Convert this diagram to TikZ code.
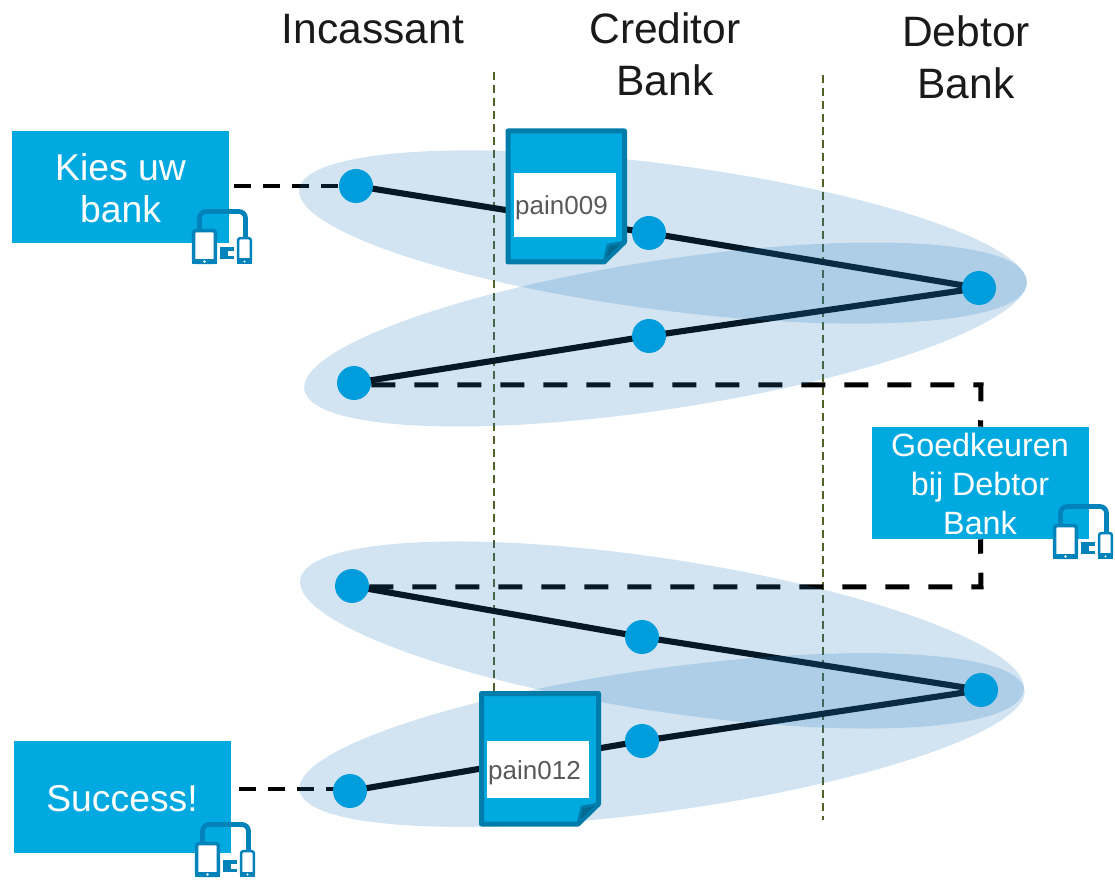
\documentclass[tikz,border=0pt]{standalone}
\usepackage{fontspec}
\setmainfont{Liberation Sans}
\usetikzlibrary{calc}
\pgfdeclarelayer{lines}
\pgfdeclarelayer{blobs}
\pgfsetlayers{lines,blobs,main}
\definecolor{boxblue}{HTML}{00A9E0}
\definecolor{dotblue}{HTML}{009DDC}
\definecolor{edgeblue}{HTML}{007CAB}
\definecolor{iconblue}{HTML}{0082BA}
\definecolor{blobblue}{RGB}{30,120,190}
\definecolor{olive}{HTML}{4F6228}
\definecolor{headtext}{HTML}{1A1A1A}
\tikzset{
  px/.style={x=0.75pt,y=-0.75pt},
  blob/.style={fill=blobblue,fill opacity=0.2},
  dotn/.style={circle,fill=dotblue,minimum size=25.5pt,inner sep=0pt},
  solidline/.style={line width=4.6pt,black,line join=round},
  dashsmall/.style={line width=3pt,black,dash pattern=on 12.75pt off 9pt},
  dashbig/.style={line width=3.75pt,black,dash pattern=on 18pt off 14.25pt},
  lane/.style={line width=1.9pt,olive,dash pattern=on 6pt off 3.75pt},
  bluebox/.style={fill=boxblue,minimum width=162.75pt,minimum height=84pt,inner sep=0pt},
  boxtext/.style={text=white,inner sep=0pt,align=center},
  head/.style={text=headtext,font=\fontsize{31.9}{39}\selectfont,align=center,inner sep=0pt},
  doc/.style={draw=edgeblue,fill=boxblue,line width=3.75pt,line join=round},
  docfold/.style={draw=edgeblue,fill=edgeblue!85!black,line width=2pt,line join=round},
  docwhite/.style={fill=white,minimum width=76.5pt,inner sep=0pt},
  doclabel/.style={text=black!65,font=\fontsize{19.5}{22}\selectfont,inner sep=0pt},
  devices/.pic={
    \draw[iconblue,line width=3.6pt,rounded corners=5pt] (7.5,22)--(7.5,2.5)--(53.5,2.5)--(53.5,32);
    \draw[iconblue,fill=white,line width=2.6pt,rounded corners=1.5pt] (1.7,21.7) rectangle (23.3,53.3);
    \draw[iconblue,fill=white,line width=1.9pt,rounded corners=1.5pt] (46.2,29.2) rectangle (58.8,53.5);
    \fill[iconblue] (0,50) rectangle (25,55);
    \fill[iconblue] (45,49.5) rectangle (60,55);
    \fill[white] (12.5,52.5) circle (1pt);
    \fill[white] (52.5,52.5) circle (0.9pt);
    \fill[iconblue] (28,38) rectangle (42,50);
    \fill[white] (36,42) rectangle (42,47);
  }
}
\begin{document}
\begin{tikzpicture}[px]
\useasboundingbox (0,0) rectangle (1115,880);

% blobs
\begin{pgfonlayer}{blobs}
\fill[blob,rotate around={-7.5:(663,237)}] (663,237) ellipse [x radius=275.2pt,y radius=54.6pt];
\fill[blob,rotate around={8.7:(665.5,334.5)}] (665.5,334.5) ellipse [x radius=274pt,y radius=55.8pt];
\fill[blob,rotate around={-8.7:(662,635)}] (662,635) ellipse [x radius=274.5pt,y radius=57.2pt];
\fill[blob,rotate around={7.9:(662,740)}] (662,740) ellipse [x radius=274.5pt,y radius=53.6pt];
\end{pgfonlayer}

% dots
\node[dotn] (a1) at (356,186) {};
\node[dotn] (a2) at (649,233) {};
\node[dotn] (a3) at (979,288) {};
\node[dotn] (a4) at (649,336) {};
\node[dotn] (a5) at (354,383) {};
\node[dotn] (b1) at (352,586) {};
\node[dotn] (b2) at (642,637) {};
\node[dotn] (b3) at (981,690) {};
\node[dotn] (b4) at (642,741) {};
\node[dotn] (b5) at (350,791) {};

% documents
\filldraw[doc] (508,131)--(624.5,131)--(624.5,242)--(604,262)--(508,262)--cycle;
\filldraw[docfold] (604,262)--(608,245)--(624.5,242)--cycle;
\node[docwhite,minimum height=48pt] (p9) at (565,205) {};
\node[doclabel] (p9t) at (561.5,208) {pain009};
\filldraw[doc] (481.5,693.5)--(598.5,693.5)--(598.5,804)--(578,824)--(481.5,824)--cycle;
\filldraw[docfold] (578,824)--(582,807)--(598.5,804)--cycle;
\node[docwhite,minimum height=43pt] (p12) at (538,769.5) {};
\node[doclabel] (p12t) at (534.5,772.5) {pain012};

% boxes
\node[bluebox] (kies) at (120.5,187) {};
\node[boxtext,font=\fontsize{28}{31.5}\selectfont] (kiest) at (120.5,188.5) {Kies uw\\bank};
\node[bluebox] (succ) at (122.5,797) {};
\node[boxtext,font=\fontsize{28}{31.5}\selectfont] (succt) at (122,798.5) {Success!};
\node[bluebox] (goed) at (980.5,483) {};
\node[boxtext,font=\fontsize{24.2}{29.2}\selectfont] (goedt) at (980,484) {Goedkeuren\\bij Debtor\\Bank};

% device icons
\pic at (192,209) {devices};
\pic at (1053,504) {devices};
\pic at (195,822) {devices};

% headers
\node[head] (h1) at (373,29) {Incassant};
\node[head] (h2) at (665,54.5) {Creditor\\Bank};
\node[head] (h3) at (966,57) {Debtor\\Bank};

% connector ends
\coordinate (kend) at (234,186);
\coordinate (send) at (239,789);
\coordinate (gtop) at (981,385);
\coordinate (gbot) at (981,587);
\coordinate (l1t) at (494,72);
\coordinate (l1b) at (494,700);
\coordinate (l2t) at (823,75);
\coordinate (l2b) at (823,820);

\begin{pgfonlayer}{lines}
\draw[lane] (l1t)--(l1b);
\draw[lane] (l2t)--(l2b);
\draw[solidline] (a1.center)--(a2.center)--(a3.center)--(a4.center)--(a5.center);
\draw[solidline] (b1.center)--(b2.center)--(b3.center)--(b4.center)--(b5.center);
\draw[dashsmall] (kend)--(a1);
\draw[dashsmall] (send)--(send-|b5.center);
\draw[dashbig] (a5.east|-gtop)--(gtop)--(goed.north);
\draw[dashbig] (b1.east|-gbot)--(gbot)--(goed.south);
\end{pgfonlayer}
\end{tikzpicture}
\end{document}
